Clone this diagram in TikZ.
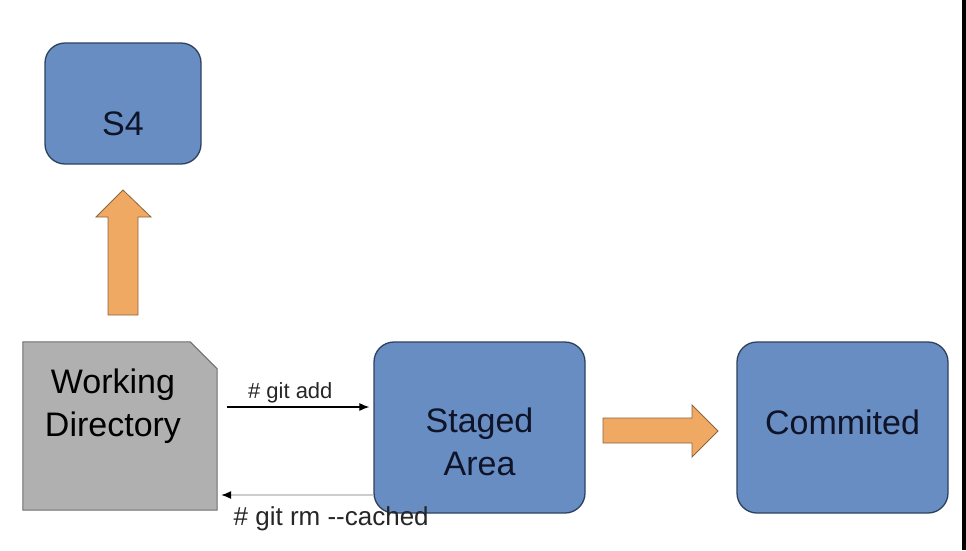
\documentclass[tikz,border=0pt]{standalone}
\usepackage{fontspec}
\setmainfont{Liberation Sans}
\usetikzlibrary{positioning,arrows.meta,backgrounds}
\definecolor{boxblue}{RGB}{103,141,195}
\definecolor{boxedge}{RGB}{45,65,95}
\definecolor{wdgray}{RGB}{176,176,176}
\definecolor{wdedge}{RGB}{110,110,110}
\definecolor{arrorange}{RGB}{240,169,99}
\definecolor{arredge}{RGB}{140,100,60}
\definecolor{txtnavy}{RGB}{15,20,40}
\definecolor{rmgray}{RGB}{205,205,205}

\begin{document}
\begin{tikzpicture}[x=1pt,y=-1pt,
blk/.style={draw=boxedge, fill=boxblue, rounded corners=20pt, line width=1.3pt, minimum width=211pt, minimum height=171pt, inner sep=0pt},
lbl/.style={font=\fontsize{34}{43}\selectfont, text=txtnavy, align=center},
wdir/.style={minimum width=194pt, minimum height=168pt, inner sep=0pt},
orng/.style={draw=arredge, fill=arrorange, line width=0.8pt},
cmd/.style={font=\fontsize{22}{26}\selectfont, text=black!85, inner sep=3pt}
]
\useasboundingbox (0,0) rectangle (966,550);

\node[blk, minimum width=156pt, minimum height=121pt, label={[lbl, yshift=-20pt]center:S4}] (s4) at (123,103.5) {};
\node[wdir, label={[lbl, text=black, xshift=-7pt, yshift=20pt]center:{Working\\Directory}}] (wd) at (120,426) {};
\node[blk, label={[lbl, yshift=-14pt]center:{Staged\\Area}}] (staged) at (479.5,427.5) {};
\node[blk, label={[lbl, yshift=5pt]center:Commited}] (commit) at (842.5,427.5) {};

% sheet with cut corner
\begin{scope}[on background layer]
\draw[draw=wdedge, fill=wdgray, line width=1pt] (wd.south west) -- (wd.north west) -- ([xshift=-27pt]wd.north east) -- ([yshift=-27pt]wd.north east) -- (wd.south east) -- cycle;
\end{scope}

% git commands
\draw[-{Latex[length=10pt,width=8pt]}, line width=1.1pt, shorten <=10pt, shorten >=4pt] ([yshift=19pt]wd.east) -- ([yshift=19pt]wd.east -| staged.west) node[midway, above, cmd, xshift=-5pt] {\# git add};
\draw[rmgray, -{Latex[length=10pt,width=8pt,color=black]}, line width=1.1pt, shorten >=4pt] ([yshift=-67.5pt]staged.west) -- ([yshift=-67.5pt]staged.west -| wd.east) node[pos=0.27, below, cmd, yshift=-8pt, font=\fontsize{26}{30}\selectfont] {\# git rm -{}-cached};

% block arrows
\draw[orng] (108,315) -- (108,217) -- (96,217) -- (123,190) -- (151,217) -- (138,217) -- (138,315) -- cycle;
\draw[orng] (603,418) -- (692,418) -- (692,405) -- (718,431) -- (692,457) -- (692,443) -- (603,443) -- cycle;

\fill (962,0) rectangle (966,550);
\end{tikzpicture}
\end{document}
